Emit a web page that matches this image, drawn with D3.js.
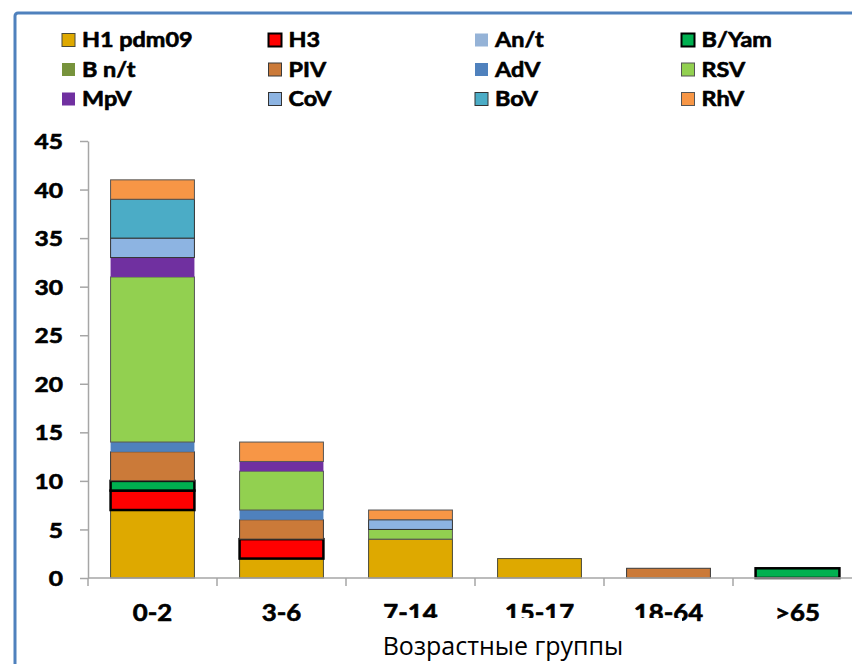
<!DOCTYPE html>
<html>
<head>
<meta charset="utf-8">
<script src="https://cdn.jsdelivr.net/npm/d3@7"></script>
<style>
  html, body { margin: 0; padding: 0; background: #fff; }
  svg { display: block; }
  .heavy { stroke: #000; stroke-width: 0.6px; stroke-linejoin: round; }
</style>
</head>
<body>
<svg id="chart" width="852" height="664"></svg>
<script>
// Age groups on the category axis
const ageGroups = ["0-2", "3-6", "7-14", "15-17", "18-64", ">65"];

// Virus names, in stacking / legend order
const virusNames = ["H1 pdm09", "H3", "An/t", "B/Yam", "B n/t", "PIV", "AdV", "RSV", "MpV", "CoV", "BoV", "RhV"];

// Number of detections per age group, one array per virus
const h1pdm09 = [7, 2, 4, 2, 0, 0];
const h3      = [2, 2, 0, 0, 0, 0];
const anT     = [0, 0, 0, 0, 0, 0];
const bYam    = [1, 0, 0, 0, 0, 1];
const bNt     = [0, 0, 0, 0, 0, 0];
const piv     = [3, 2, 0, 0, 1, 0];
const adv     = [1, 1, 0, 0, 0, 0];
const rsv     = [17, 4, 1, 0, 0, 0];
const mpv     = [2, 1, 0, 0, 0, 0];
const cov     = [2, 0, 1, 0, 0, 0];
const bov     = [4, 0, 0, 0, 0, 0];
const rhv     = [2, 2, 1, 0, 0, 0];

// Value axis ticks
const yTicks = [0, 5, 10, 15, 20, 25, 30, 35, 40, 45];

const seriesArrays = [h1pdm09, h3, anT, bYam, bNt, piv, adv, rsv, mpv, cov, bov, rhv];

// Fill colours and outline styles per virus
const fills = ["#DEA900", "#FF0000", "#95B3D7", "#00B050", "#77933C", "#CB7A39",
               "#4F81BD", "#92D050", "#7030A0", "#8DB4E2", "#4BACC6", "#F79646"];
const strokes = ["#4a4a3a", "#000", "none", "#000", "none", "#3a3a3a",
                 "none", "#555", "none", "#333", "#333", "#555"];
const strokeW = [1, 2.5, 0, 2.5, 0, 1, 0, 1, 0, 1, 1, 1];

const SX = 1.17; // horizontal stretch of the bold label face
const labelFont = "Lato, 'Open Sans', sans-serif";

// Rows for d3.stack: one object per age group
const table = ageGroups.map((g, i) => {
  const row = { group: g };
  virusNames.forEach((v, k) => { row[v] = seriesArrays[k][i]; });
  return row;
});

const svg = d3.select("#chart");

// Outer frame
svg.append("rect")
  .attr("x", 15).attr("y", 13)
  .attr("width", 900).attr("height", 700)
  .attr("rx", 3)
  .attr("fill", "none")
  .attr("stroke", "#4F81BD")
  .attr("stroke-width", 3);

const x = d3.scaleBand()
  .domain(ageGroups)
  .range([88, 862])
  .paddingInner(0.35)
  .paddingOuter(0.175);

const y = d3.scaleLinear().domain([0, 45]).range([578, 141]);

const stack = d3.stack().keys(virusNames);
const layers = stack(table);

// Stacked bars
const gBars = svg.append("g");
layers.forEach((layer, k) => {
  gBars.append("g")
    .selectAll("rect")
    .data(layer.filter(d => d[1] - d[0] > 0))
    .join("rect")
    .attr("x", d => x(d.data.group))
    .attr("width", x.bandwidth())
    .attr("y", d => y(d[1]))
    .attr("height", d => y(d[0]) - y(d[1]))
    .attr("fill", fills[k])
    .attr("stroke", strokes[k])
    .attr("stroke-width", strokeW[k]);
});

const axisColor = "#A6A6A6";

// Value axis
const yAxis = svg.append("g")
  .attr("transform", "translate(88,0)")
  .call(d3.axisLeft(y).tickValues(yTicks).tickSize(8).tickSizeOuter(0).tickPadding(0));
yAxis.select(".domain").attr("stroke", axisColor).attr("stroke-width", 1.5);
yAxis.selectAll(".tick line").attr("stroke", axisColor).attr("stroke-width", 1.5);
yAxis.selectAll(".tick text")
  .attr("class", "heavy")
  .attr("x", -25 / SX)
  .attr("dy", "0.36em")
  .attr("transform", `scale(${SX},1)`)
  .attr("fill", "#000")
  .style("font-family", labelFont)
  .style("font-weight", "bold")
  .style("font-size", "21px");

// Category axis: labels centred in bands, tick marks on band boundaries
const xAxis = svg.append("g")
  .attr("transform", "translate(0,578)")
  .call(d3.axisBottom(x).tickSize(0).tickSizeOuter(0).tickPadding(0));
xAxis.select(".domain").remove();
xAxis.selectAll(".tick text")
  .attr("class", "heavy")
  .attr("y", 0)
  .attr("dy", 0)
  .attr("transform", `translate(0,43) scale(${SX},1)`)
  .attr("fill", "#000")
  .style("font-family", labelFont)
  .style("font-weight", "bold")
  .style("font-size", "22px");

const x0 = x.range()[0];
svg.append("line")
  .attr("x1", x0).attr("x2", x.range()[1])
  .attr("y1", y(0)).attr("y2", y(0))
  .attr("stroke", axisColor).attr("stroke-width", 1.5);
svg.append("g")
  .selectAll("line")
  .data(d3.range(ageGroups.length + 1))
  .join("line")
  .attr("x1", i => x0 + i * x.step())
  .attr("x2", i => x0 + i * x.step())
  .attr("y1", y(0)).attr("y2", y(0) + 8)
  .attr("stroke", axisColor).attr("stroke-width", 1.5);

// Axis title in its white box
svg.append("rect")
  .attr("x", 324).attr("y", 618)
  .attr("width", 358).attr("height", 46)
  .attr("fill", "#fff");
svg.append("text")
  .attr("x", 503).attr("y", 655)
  .attr("text-anchor", "middle")
  .attr("fill", "#000")
  .style("font-family", "'Open Sans', 'Noto Sans', sans-serif")
  .style("font-size", "25px")
  .text("Возрастные группы");

// Legend: 4 columns x 3 rows
const legend = svg.append("g");
virusNames.forEach((name, k) => {
  const col = k % 4, row = Math.floor(k / 4);
  const lx = 62 + col * 206.5, ly = 40 + row * 29.5;
  const g = legend.append("g").attr("transform", `translate(${lx},${ly})`);
  const sw = strokeW[k] > 0 ? Math.min(strokeW[k], 2) : 0;
  g.append("rect")
    .attr("x", 0).attr("y", -6.5)
    .attr("width", 13).attr("height", 13)
    .attr("fill", fills[k])
    .attr("stroke", strokes[k] === "none" ? "none" : strokes[k])
    .attr("stroke-width", sw);
  g.append("text")
    .attr("class", "heavy")
    .attr("transform", `translate(20,0) scale(${SX},1)`)
    .attr("dy", "0.36em")
    .attr("fill", "#000")
    .style("font-family", labelFont)
    .style("font-weight", "bold")
    .style("font-size", "20px")
    .text(name);
});
</script>
</body>
</html>
